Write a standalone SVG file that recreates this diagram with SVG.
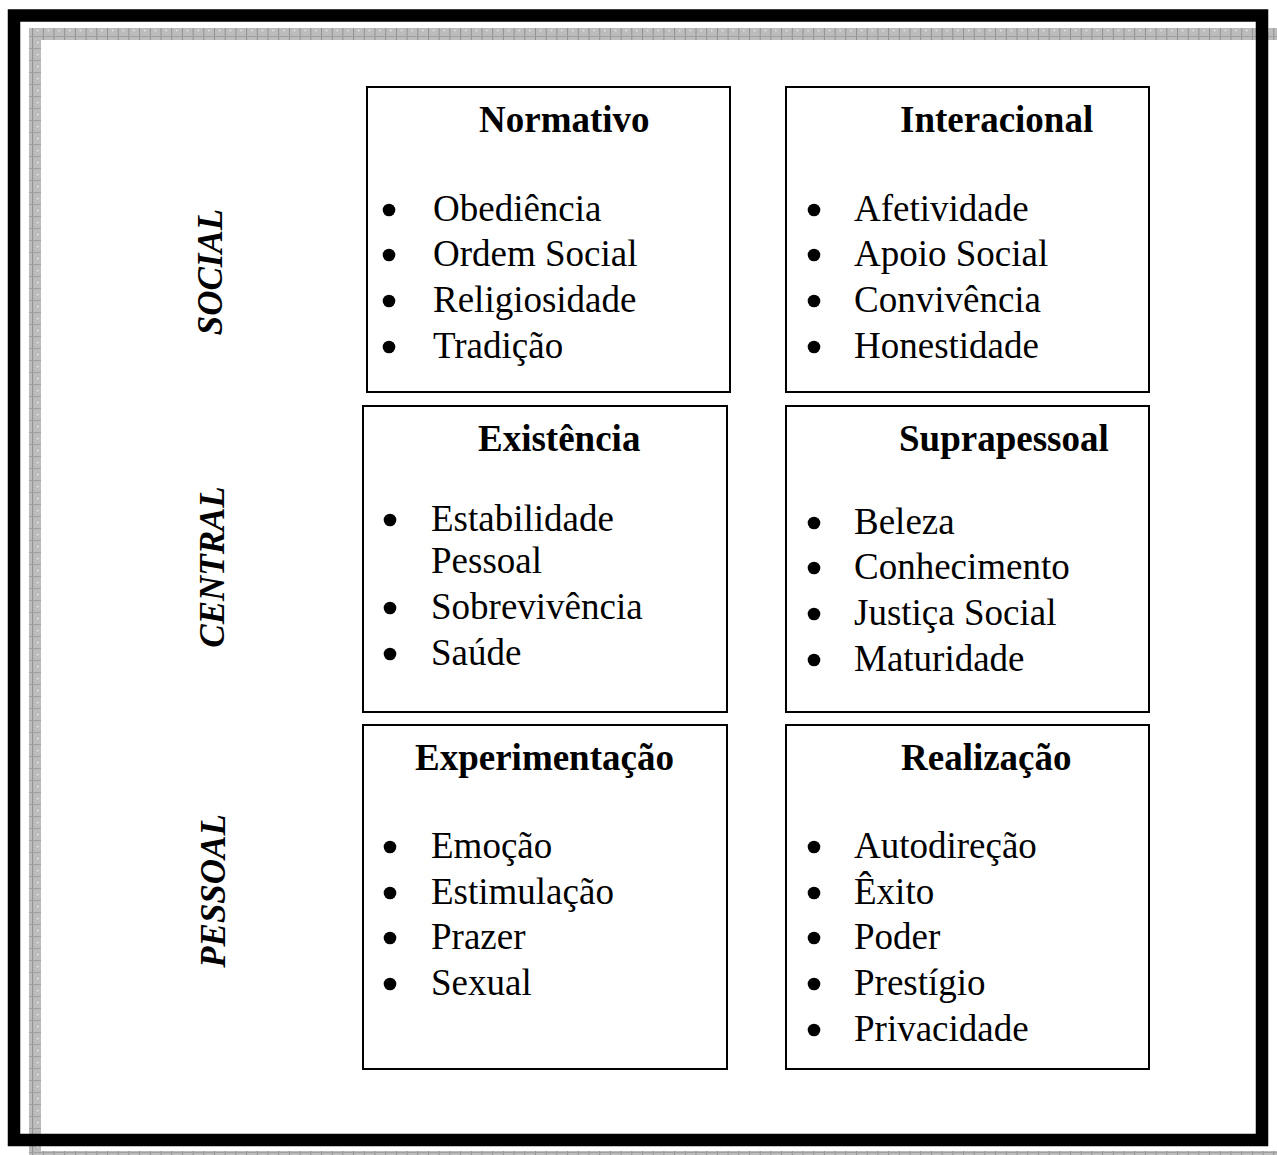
<svg xmlns="http://www.w3.org/2000/svg" width="1277" height="1155" viewBox="0 0 1277 1155">
<defs>
<pattern id="hatch" width="10.7" height="12" patternUnits="userSpaceOnUse">
<rect width="10.7" height="12" fill="#bcbcbc"/>
<rect x="0" y="0" width="1" height="12" fill="#8f8f8f"/>
<rect x="0" y="0" width="10.7" height="1" fill="#a0a0a0"/>
<rect x="5" y="6" width="1.2" height="1.2" fill="#ffffff"/>
</pattern>
<style>
.box{fill:#fff;stroke:#000;stroke-width:2}
.t{font-family:"Liberation Serif","Times New Roman",serif;font-size:37px;fill:#000}
.h{font-weight:bold}
.side{font-family:"Liberation Serif","Times New Roman",serif;font-size:35px;font-weight:bold;font-style:italic;fill:#000;text-anchor:middle}
.b{fill:#000}
</style>
</defs>
<rect width="1277" height="1155" fill="#fff"/>
<g id="frame">
<rect x="29" y="28" width="1260" height="12" fill="url(#hatch)"/>
<rect x="29" y="28" width="12" height="1140" fill="url(#hatch)"/>
<rect x="29" y="1151" width="1260" height="12" fill="url(#hatch)"/>
<rect x="14" y="15.5" width="1248" height="1124.5" fill="none" stroke="#000" stroke-width="12.5"/>
</g>
<g id="labels">
<text class="side" transform="translate(222,272) rotate(-90)">SOCIAL</text>
<text class="side" transform="translate(224,567) rotate(-90)">CENTRAL</text>
<text class="side" transform="translate(225,891) rotate(-90)">PESSOAL</text>
</g>
<g id="normativo">
<rect class="box" x="367" y="87" width="363" height="305"/>
<text class="t h" x="479" y="131.5">Normativo</text>
<circle class="b" cx="389" cy="210" r="6.3"/><text class="t" x="433" y="221">Obediência</text>
<circle class="b" cx="389" cy="255" r="6.3"/><text class="t" x="433" y="266">Ordem Social</text>
<circle class="b" cx="389" cy="301" r="6.3"/><text class="t" x="433" y="312">Religiosidade</text>
<circle class="b" cx="389" cy="347" r="6.3"/><text class="t" x="433" y="358">Tradição</text>
</g>
<g id="interacional">
<rect class="box" x="786" y="87" width="363" height="305"/>
<text class="t h" x="900" y="131.5">Interacional</text>
<circle class="b" cx="814" cy="210" r="6.3"/><text class="t" x="854" y="221">Afetividade</text>
<circle class="b" cx="814" cy="255" r="6.3"/><text class="t" x="854" y="266">Apoio Social</text>
<circle class="b" cx="814" cy="301" r="6.3"/><text class="t" x="854" y="312">Convivência</text>
<circle class="b" cx="814" cy="347" r="6.3"/><text class="t" x="854" y="358">Honestidade</text>
</g>
<g id="existencia">
<rect class="box" x="363" y="406" width="364" height="306"/>
<text class="t h" x="478" y="451">Existência</text>
<circle class="b" cx="390" cy="520" r="6.3"/><text class="t" x="431" y="531">Estabilidade</text>
<text class="t" x="431" y="573">Pessoal</text>
<circle class="b" cx="390" cy="608" r="6.3"/><text class="t" x="431" y="619">Sobrevivência</text>
<circle class="b" cx="390" cy="654" r="6.3"/><text class="t" x="431" y="665">Saúde</text>
</g>
<g id="suprapessoal">
<rect class="box" x="786" y="406" width="363" height="306"/>
<text class="t h" x="899" y="451">Suprapessoal</text>
<circle class="b" cx="814" cy="523" r="6.3"/><text class="t" x="854" y="534">Beleza</text>
<circle class="b" cx="814" cy="568" r="6.3"/><text class="t" x="854" y="579">Conhecimento</text>
<circle class="b" cx="814" cy="614" r="6.3"/><text class="t" x="854" y="625">Justiça Social</text>
<circle class="b" cx="814" cy="660" r="6.3"/><text class="t" x="854" y="671">Maturidade</text>
</g>
<g id="experimentacao">
<rect class="box" x="363" y="725" width="364" height="344"/>
<text class="t h" x="415" y="770">Experimentação</text>
<circle class="b" cx="390" cy="847" r="6.3"/><text class="t" x="431" y="858">Emoção</text>
<circle class="b" cx="390" cy="893" r="6.3"/><text class="t" x="431" y="904">Estimulação</text>
<circle class="b" cx="390" cy="938" r="6.3"/><text class="t" x="431" y="949">Prazer</text>
<circle class="b" cx="390" cy="984" r="6.3"/><text class="t" x="431" y="995">Sexual</text>
</g>
<g id="realizacao">
<rect class="box" x="786" y="725" width="363" height="344"/>
<text class="t h" x="901" y="770">Realização</text>
<circle class="b" cx="814" cy="847" r="6.3"/><text class="t" x="854" y="858">Autodireção</text>
<circle class="b" cx="814" cy="893" r="6.3"/><text class="t" x="854" y="904">Êxito</text>
<circle class="b" cx="814" cy="938" r="6.3"/><text class="t" x="854" y="949">Poder</text>
<circle class="b" cx="814" cy="984" r="6.3"/><text class="t" x="854" y="995">Prestígio</text>
<circle class="b" cx="814" cy="1030" r="6.3"/><text class="t" x="854" y="1041">Privacidade</text>
</g>
<g id="connectors"/>
</svg>
